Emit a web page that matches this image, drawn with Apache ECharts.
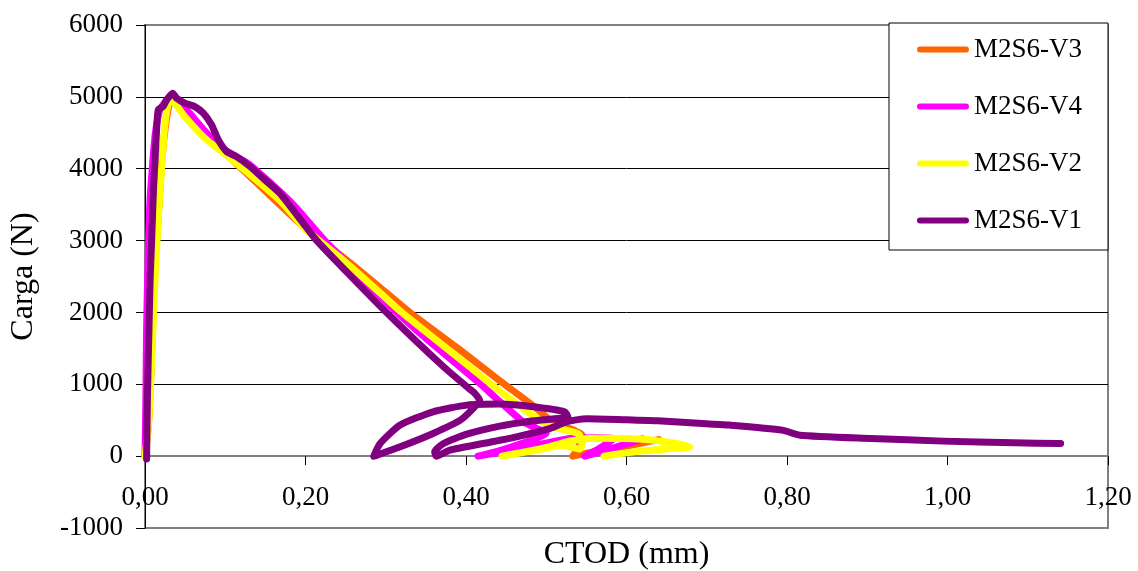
<!DOCTYPE html>
<html>
<head>
<meta charset="utf-8">
<script src="https://cdn.jsdelivr.net/npm/echarts@6/dist/echarts.min.js"></script>
<style>
html,body{margin:0;padding:0;background:#fff;}
#chart{width:1138px;height:571px;}
</style>
</head>
<body>
<div id="chart"></div>
<script>
// ---- Data (CTOD mm, Carga N) ----
var seriesNames = ['M2S6-V3', 'M2S6-V4', 'M2S6-V2', 'M2S6-V1'];
var seriesColors = ['#FF6600', '#FF00FF', '#FFFF00', '#800080'];

var v3Data = [[0,0],[0.004,400],[0.006,800],[0.0085,1500],[0.0105,2200],[0.0125,2700],[0.0145,3000],[0.018,3600],[0.021,4120],[0.025,4550],[0.03,4880],[0.035,4980],[0.042,4900],[0.06,4650],[0.08,4400],[0.106,4150],[0.15,3690],[0.2,3170],[0.25,2740],[0.3,2280],[0.33,2000],[0.39,1500],[0.442,1050],[0.488,664],[0.505,500],[0.52,420],[0.53,380],[0.538,340],[0.545,290],[0.542,180],[0.537,60],[0.533,0],[0.55,40],[0.58,100],[0.616,176],[0.64,230]];

var v4Data = [[0,0],[0.001,700],[0.002,1800],[0.004,2800],[0.006,3500],[0.009,4000],[0.013,4500],[0.018,4800],[0.025,4930],[0.033,5000],[0.04,4950],[0.055,4780],[0.075,4520],[0.1,4260],[0.13,4060],[0.183,3520],[0.224,3000],[0.26,2600],[0.314,2000],[0.35,1640],[0.417,1012],[0.44,780],[0.471,478],[0.488,386],[0.5,320],[0.47,180],[0.44,70],[0.415,0],[0.45,70],[0.49,160],[0.53,245],[0.56,255],[0.585,245],[0.565,100],[0.548,0],[0.57,70],[0.6,170],[0.62,240]];

var v2Data = [[0,0],[0.004,400],[0.007,1000],[0.01,1800],[0.013,2600],[0.017,3400],[0.0228,4355],[0.027,4800],[0.032,4980],[0.036,4930],[0.05,4720],[0.077,4400],[0.106,4150],[0.168,3560],[0.2,3160],[0.25,2700],[0.3,2200],[0.32,2000],[0.35,1730],[0.405,1240],[0.43,1012],[0.48,590],[0.505,420],[0.525,360],[0.54,310],[0.545,200],[0.542,100],[0.52,150],[0.49,90],[0.46,30],[0.445,0],[0.47,50],[0.5,120],[0.53,210],[0.56,250],[0.62,235],[0.66,180],[0.679,130],[0.65,100],[0.617,70],[0.59,30],[0.572,0]];

var v1Data = [[0.002,-40],[0.003,800],[0.005,1800],[0.0065,2500],[0.0083,3008],[0.0105,3700],[0.0125,4120],[0.0145,4550],[0.0166,4820],[0.0228,4870],[0.027,4958],[0.0345,5050],[0.0395,4980],[0.0498,4912],[0.062,4865],[0.0727,4773],[0.083,4610],[0.0914,4401],[0.1018,4238],[0.114,4168],[0.131,4029],[0.147,3868],[0.168,3659],[0.2,3200],[0.214,3000],[0.25,2580],[0.301,2000],[0.372,1244],[0.405,930],[0.411,873],[0.417,780],[0.409,664],[0.393,501],[0.359,316],[0.318,130],[0.289,14],[0.285,0],[0.293,176],[0.318,432],[0.359,617],[0.401,710],[0.442,724],[0.484,687],[0.523,617],[0.527,548],[0.484,492],[0.442,418],[0.401,306],[0.372,176],[0.361,60],[0.363,0],[0.38,84],[0.421,176],[0.463,269],[0.505,386],[0.525,478],[0.55,520],[0.6,505],[0.639,492],[0.7,450],[0.728,432],[0.794,362],[0.816,292],[0.905,246],[0.994,209],[1.083,186],[1.141,176]];

var seriesData = [v3Data, v4Data, v2Data, v1Data];

var xAxisTitle = 'CTOD (mm)';
var yAxisTitle = 'Carga (N)';
var xMin = 0, xMax = 1.2, xStep = 0.2;
var yMin = -1000, yMax = 6000, yStep = 1000;

var FONT = "'Liberation Serif', 'Times New Roman', serif";
var chart = echarts.init(document.getElementById('chart'), null, {renderer: 'canvas'});

var capsule = 'path://M3,0 L49,0 A3,3 0 0 1 49,6 L3,6 A3,3 0 0 1 3,0 Z';

var option = {
  animation: false,
  backgroundColor: '#ffffff',
  grid: {
    left: 145, right: 30, top: 25, bottom: 43,
    containLabel: false, outerBoundsMode: 'none',
    show: true, borderColor: '#808080', borderWidth: 2, backgroundColor: 'transparent'
  },
  legend: {
    orient: 'vertical',
    left: 889, top: 23,
    padding: [13, 26, 16, 28],
    itemGap: 30,
    itemWidth: 52, itemHeight: 6,
    backgroundColor: '#ffffff',
    borderColor: '#000000', borderWidth: 1,
    textStyle: {fontFamily: FONT, fontSize: 27, color: '#000'},
    data: seriesNames.map(function (n) { return {name: n, icon: capsule}; })
  },
  xAxis: {
    type: 'value', min: xMin, max: xMax, interval: xStep,
    name: xAxisTitle, nameLocation: 'middle', nameGap: 11,
    nameTextStyle: {fontFamily: FONT, fontSize: 32, color: '#000'},
    axisLine: {show: true, onZero: true, lineStyle: {color: '#808080', width: 2}},
    axisTick: {show: true, inside: false, length: 9, lineStyle: {color: '#000', width: 1}},
    axisLabel: {
      fontFamily: FONT, fontSize: 27, color: '#000', margin: -44,
      showMinLabel: true, showMaxLabel: true,
      formatter: function (v) { return v.toFixed(2).replace('.', ','); }
    },
    splitLine: {show: false}
  },
  yAxis: {
    type: 'value', min: yMin, max: yMax, interval: yStep,
    name: yAxisTitle, nameLocation: 'middle', nameGap: 105,
    nameTextStyle: {fontFamily: FONT, fontSize: 32, color: '#000'},
    axisLine: {show: true, onZero: false, lineStyle: {color: '#000', width: 1}},
    axisTick: {show: true, inside: false, length: 9, lineStyle: {color: '#000', width: 1}},
    axisLabel: {fontFamily: FONT, fontSize: 27, color: '#000', margin: 22,
      formatter: function (v) { return String(v); }},
    splitLine: {show: true, lineStyle: {
      color: ['#808080', '#808080', '#000', '#000', '#000', '#000', '#000', '#808080'], width: 1}}
  },
  series: seriesNames.map(function (n, i) {
    return {
      name: n, type: 'line', data: seriesData[i],
      showSymbol: false, symbol: 'none', smooth: 0.2,
      color: seriesColors[i],
      lineStyle: {color: seriesColors[i], width: 7, cap: 'round', join: 'round'},
      itemStyle: {color: seriesColors[i]},
      z: 2 + i
    };
  })
};
chart.setOption(option);
</script>
</body>
</html>
